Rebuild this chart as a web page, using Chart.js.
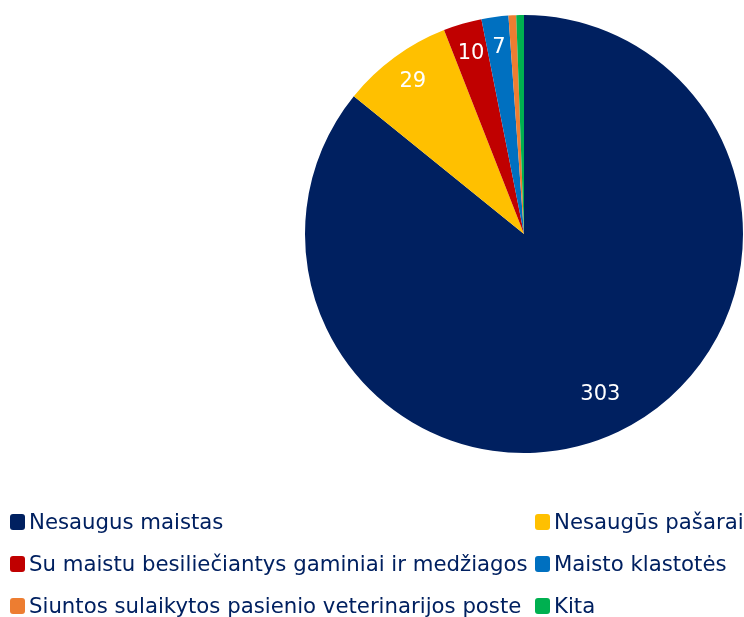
<!DOCTYPE html>
<html>
<head>
<meta charset="utf-8">
<script src="https://cdn.jsdelivr.net/npm/chart.js@4"></script>
<style>
    body { margin: 0; background: #fff; }
    #wrap { position: relative; width: 744px; height: 617px; }
    #chartBox { position: absolute; left: 0; top: 0; width: 744px; height: 470px; }
    #legend { position: absolute; left: 0; top: 0; width: 744px; height: 617px; pointer-events: none; }
    .item { position: absolute; display: flex; align-items: center; white-space: nowrap;
            font-family: "DejaVu Sans", Verdana, sans-serif; font-size: 21.25px; color: #002060; }
    .box { width: 15px; height: 16px; border-radius: 3px; margin-right: 4px; }
</style>
</head>
<body>
<div id="wrap">
    <div id="chartBox"><canvas id="pieChart"></canvas></div>
    <div id="legend"></div>
</div>
<script>
const categories = [
    'Nesaugus maistas',
    'Nesaugūs pašarai',
    'Su maistu besiliečiantys gaminiai ir medžiagos',
    'Maisto klastotės',
    'Siuntos sulaikytos pasienio veterinarijos poste',
    'Kita'
];
const values = [303, 29, 10, 7, 2, 2];
const colors = ['#002060', '#FFC000', '#C00000', '#0070C0', '#ED7D31', '#00B050'];

// white value labels inside the slices (small slices left unlabelled)
const sliceLabels = {
    id: 'sliceLabels',
    afterDatasetsDraw(chart) {
        const ctx = chart.ctx;
        const meta = chart.getDatasetMeta(0);
        const data = chart.data.datasets[0].data;
        ctx.save();
        ctx.fillStyle = '#ffffff';
        ctx.font = '21px "DejaVu Sans", Verdana, sans-serif';
        ctx.textAlign = 'center';
        ctx.textBaseline = 'middle';
        meta.data.forEach((arc, i) => {
            if (data[i] < 5) return;
            const mid = (arc.startAngle + arc.endAngle) / 2;
            const r = arc.outerRadius * (data[i] > 100 ? 0.81 : 0.86);
            ctx.fillText(String(data[i]), arc.x + Math.cos(mid) * r, arc.y + Math.sin(mid) * r);
        });
        ctx.restore();
    }
};

const chart = new Chart(document.getElementById('pieChart'), {
    type: 'pie',
    data: {
        labels: categories,
        datasets: [{
            data: values,
            backgroundColor: colors,
            borderWidth: 0
        }]
    },
    options: {
        responsive: true,
        maintainAspectRatio: false,
        animation: false,
        layout: { padding: { left: 305, right: 1, top: 15, bottom: 17 } },
        plugins: {
            legend: { display: false },
            tooltip: { enabled: false }
        }
    },
    plugins: [sliceLabels]
});

// legend in two columns below the pie
const legendEl = document.getElementById('legend');
const rowTops = [509, 551, 593];
chart.data.labels.forEach((label, i) => {
    const item = document.createElement('div');
    item.className = 'item';
    item.style.left = (i % 2 === 0 ? 10 : 535) + 'px';
    item.style.top = rowTops[Math.floor(i / 2)] + 'px';
    const box = document.createElement('span');
    box.className = 'box';
    box.style.background = chart.data.datasets[0].backgroundColor[i];
    const text = document.createElement('span');
    text.textContent = label;
    item.appendChild(box);
    item.appendChild(text);
    legendEl.appendChild(item);
});
</script>
</body>
</html>
